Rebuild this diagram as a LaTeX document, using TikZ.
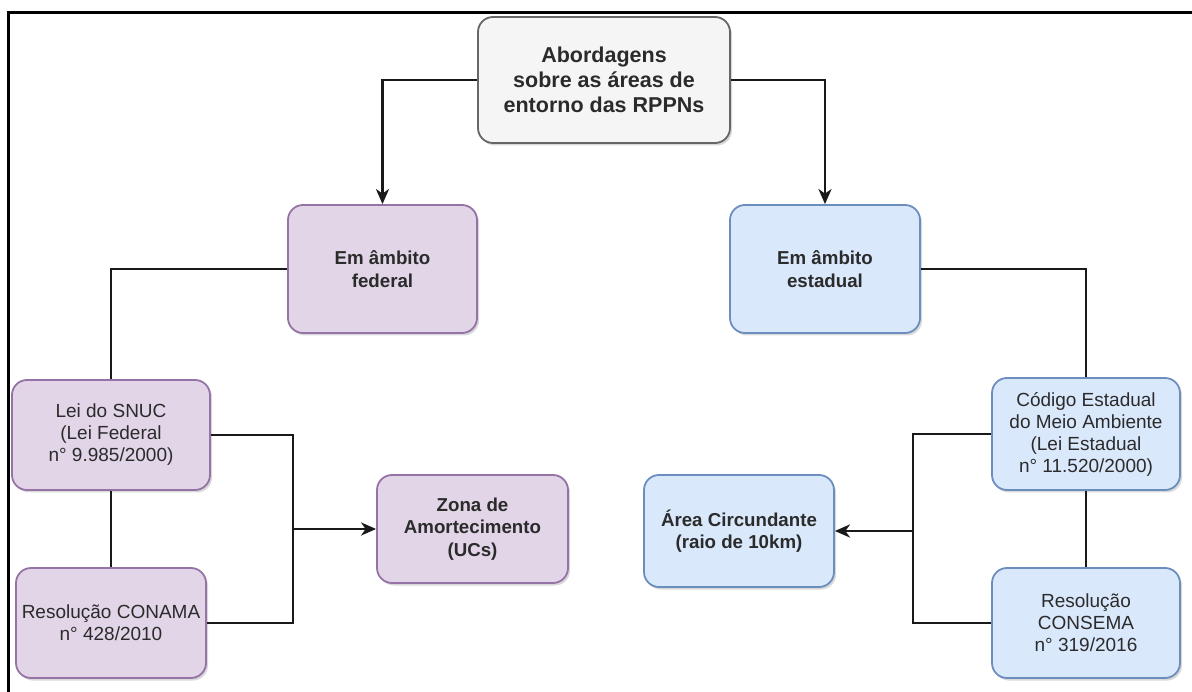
\documentclass[tikz,border=0pt]{standalone}
\usepackage{fontspec}
\setmainfont{Liberation Sans}
\usetikzlibrary{positioning,arrows.meta,shadows}
\definecolor{rpgrey}{HTML}{F5F5F5}
\definecolor{rpgreyline}{HTML}{666666}
\definecolor{rppurple}{HTML}{E1D5E7}
\definecolor{rppurpleline}{HTML}{9673A6}
\definecolor{rpblue}{HTML}{DAE8FC}
\definecolor{rpblueline}{HTML}{6C8EBF}
\definecolor{rptext}{HTML}{2B2B2B}
\tikzset{
  ent/.style={draw, line width=1.8pt, rounded corners=15pt, align=center,
              inner sep=4pt, text=rptext,
              font=\fontsize{19}{22}\selectfont,
              drop shadow={shadow xshift=2pt, shadow yshift=-2.5pt, opacity=0.3}},
  head/.style={font=\bfseries\fontsize{18.7}{22.5}\selectfont},
  topo/.style={ent, fill=rpgrey, draw=rpgreyline,
               font=\bfseries\fontsize{21.5}{25}\selectfont},
  fed/.style={ent, fill=rppurple, draw=rppurpleline},
  est/.style={ent, fill=rpblue, draw=rpblueline},
  link/.style={line width=2.8pt, color=black!90},
  flow/.style={link, -{Stealth[length=15pt, width=13pt, inset=4.5pt]}},
  frame/.style={line width=3pt, color=black},
}

\begin{document}
\begin{tikzpicture}[x=1pt, y=-1pt]
\useasboundingbox (0,0) rectangle (1192,692);
\draw[frame] (8,692) -- (8,13) -- (1192,13);

\node[topo, minimum width=252pt, minimum height=126pt] (topo) at (604,80)
  {Abordagens\\sobre as áreas de\\entorno das RPPNs};
\node[fed, head, minimum width=189pt, minimum height=128pt] (federal) at (382.5,269)
  {Em âmbito\\federal};
\node[est, head, minimum width=190pt, minimum height=128pt] (estadual) at (825,269)
  {Em âmbito\\estadual};

% ramo federal
\node[fed, minimum width=198pt, minimum height=110pt] (snuc) at (111,435)
  {Lei do SNUC\\(Lei Federal\\n° 9.985/2000)};
\node[fed, minimum width=190pt, minimum height=110pt] (conama) at (111,623)
  {Resolução CONAMA\\n° 428/2010};
\node[fed, head, minimum width=191pt, minimum height=108pt] (zona) at (472.5,529)
  {Zona de\\Amortecimento\\(UCs)};
\coordinate (jfed) at (293,529);

% ramo estadual
\node[est, minimum width=188pt, minimum height=112pt] (codigo) at (1086,434)
  {Código Estadual\\do Meio Ambiente\\(Lei Estadual\\n° 11.520/2000)};
\node[est, minimum width=188pt, minimum height=110pt] (consema) at (1086,623)
  {Resolução\\CONSEMA\\n° 319/2016};
\node[est, head, minimum width=190pt, minimum height=112pt] (area) at (739,531)
  {Área Circundante\\(raio de 10km)};
\coordinate (jest) at (913,531);

\draw[flow] (topo.west) -| (federal.north);
\draw[flow] (topo.east) -| (estadual.north);

\draw[link] (federal.west) -| (snuc.north);
\draw[link] (snuc.south) -- (conama.north);
\draw[link] (snuc.east) -| (jfed);
\draw[link] (conama.east) -| (jfed);
\draw[flow] (jfed) -- (zona.west);

\draw[link] (estadual.east) -| (codigo.north);
\draw[link] (codigo.south) -- (consema.north);
\draw[link] (codigo.west) -| (jest);
\draw[link] (consema.west) -| (jest);
\draw[flow] (jest) -- (area.east);
\end{tikzpicture}
\end{document}
